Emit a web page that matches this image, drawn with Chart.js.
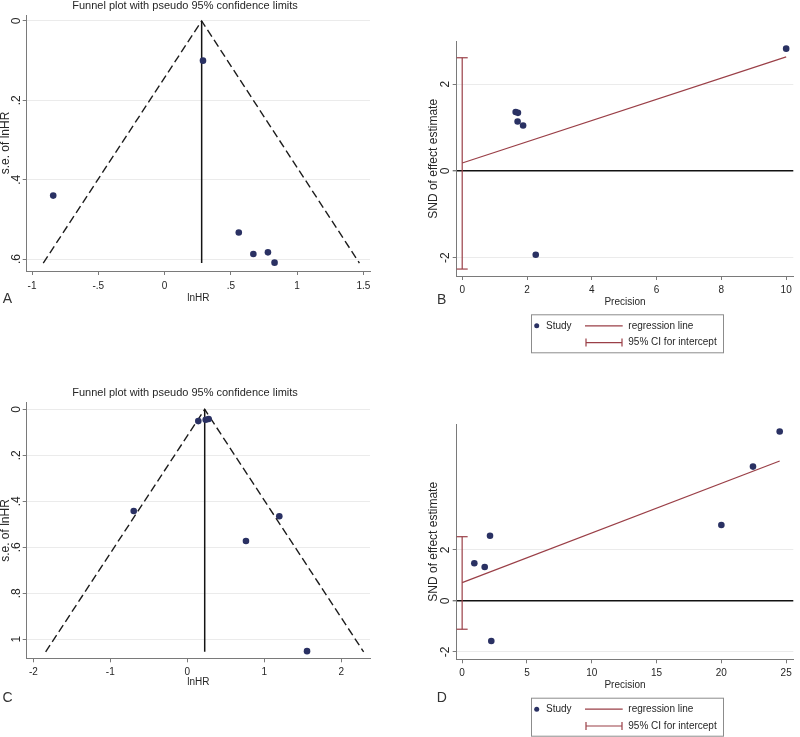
<!DOCTYPE html>
<html>
<head>
<meta charset="utf-8">
<script src="https://cdn.jsdelivr.net/npm/chart.js@4.4.1/dist/chart.umd.min.js"></script>
<style>
  html, body { margin: 0; padding: 0; background: #ffffff; }
  #wrap { position: relative; width: 800px; height: 737px; background: #ffffff; overflow: hidden; }
  canvas { position: absolute; }
</style>
</head>
<body>
<div id="wrap">
  <canvas id="cA" width="400" height="310" style="left:0px;top:0px;width:400px;height:310px"></canvas>
  <canvas id="cB" width="400" height="370" style="left:400px;top:0px;width:400px;height:370px"></canvas>
  <canvas id="cC" width="400" height="367" style="left:0px;top:370px;width:400px;height:367px"></canvas>
  <canvas id="cD" width="400" height="367" style="left:400px;top:370px;width:400px;height:367px"></canvas>
</div>
<script>
// ---------------- DATA ----------------
// Panel A: funnel plot
const aLnHR = [0.29, -0.84, 0.56, 0.67, 0.78, 0.83];
const aSE   = [0.10, 0.44, 0.533, 0.587, 0.583, 0.609];
const aFunnelX = [-0.915, 0.28, 1.47];
const aFunnelY = [0.61, 0, 0.61];
const aCentreX = [0.28, 0.28];
const aCentreY = [0, 0.61];
const aXTicks = [-1, -0.5, 0, 0.5, 1, 1.5];
const aXLabels = ['-1', '-.5', '0', '.5', '1', '1.5'];
const aYTicks = [0, 0.2, 0.4, 0.6];
const aYLabels = ['0', '.2', '.4', '.6'];

// Panel B: Egger regression
const bPrecision = [10.0, 1.65, 1.72, 1.71, 1.88, 2.27];
const bSND       = [2.82, 1.36, 1.34, 1.14, 1.05, -1.93];
const bRegX = [0, 10];
const bRegY = [0.185, 2.63];
const bCIX = [0, 0];
const bCIY = [-2.26, 2.61];
const bXTicks = [0, 2, 4, 6, 8, 10];
const bXLabels = ['0', '2', '4', '6', '8', '10'];
const bYTicks = [-2, 0, 2];
const bYLabels = ['-2', '0', '2'];

// Panel C: funnel plot
const cLnHR = [0.143, 0.239, 0.277, -0.696, 1.195, 0.762, 1.555];
const cSE   = [0.051, 0.045, 0.042, 0.442, 0.465, 0.573, 1.052];
const cFunnelX = [-1.84, 0.226, 2.29];
const cFunnelY = [1.055, 0, 1.055];
const cCentreX = [0.226, 0.226];
const cCentreY = [0, 1.055];
const cXTicks = [-2, -1, 0, 1, 2];
const cXLabels = ['-2', '-1', '0', '1', '2'];
const cYTicks = [0, 0.2, 0.4, 0.6, 0.8, 1];
const cYLabels = ['0', '.2', '.4', '.6', '.8', '1'];

// Panel D: Egger regression
const dPrecision = [0.94, 1.74, 2.15, 2.25, 20.0, 22.44, 24.5];
const dSND       = [1.48, 1.33, 2.56, -1.57, 2.98, 5.27, 6.65];
const dRegX = [0, 24.5];
const dRegY = [0.72, 5.49];
const dCIX = [0, 0];
const dCIY = [-1.11, 2.52];
const dXTicks = [0, 5, 10, 15, 20, 25];
const dXLabels = ['0', '5', '10', '15', '20', '25'];
const dYTicks = [-2, 0, 2];
const dYLabels = ['-2', '0', '2'];

const funnelTitle = 'Funnel plot with pseudo 95% confidence limits';
const legendLabels = ['Study', 'regression line', '95% CI for intercept'];

// ---------------- STYLE ----------------
const FONT_FAMILY = "'Liberation Sans',Arial,sans-serif";
const NAVY = '#2a3163';
const MAROON = '#9a3f47';
const AXIS = '#7a7a7a';
const GRID = '#ebebeb';
const TEXT = '#262626';
const HFONT = 10;   // horizontal text size
const VFONT = 12;   // vertical (rotated) text size
const TFONT = 11;   // panel title size
Chart.defaults.font.family = FONT_FAMILY;
Chart.defaults.font.size = HFONT;
Chart.defaults.color = TEXT;

function pts(xs, ys) { return xs.map((x, i) => ({ x: x, y: ys[i] })); }

function makeAxis(o) {
  const fs = o.vertical ? VFONT : HFONT;
  return {
    type: 'linear',
    position: o.vertical ? 'left' : 'bottom',
    min: o.min, max: o.max, reverse: !!o.reverse,
    afterBuildTicks: s => { s.ticks = o.ticks.map(v => ({ value: v })); },
    afterFit: s => { if (o.vertical) s.width = o.size; else s.height = o.size; },
    ticks: {
      autoSkip: false,
      callback: v => o.labels[o.ticks.indexOf(v)],
      minRotation: o.vertical ? 90 : 0,
      maxRotation: o.vertical ? 90 : 0,
      crossAlign: o.vertical ? 'center' : 'near',
      padding: o.tickPad,
      color: TEXT,
      font: { size: fs }
    },
    grid: {
      drawOnChartArea: !!o.vertical,
      color: ctx => (o.zeroLine && ctx.tick && ctx.tick.value === 0) ? '#111111' : GRID,
      lineWidth: ctx => (o.zeroLine && ctx.tick && ctx.tick.value === 0) ? 1.4 : 1,
      tickColor: AXIS,
      tickLength: 4,
      drawTicks: true
    },
    border: { color: AXIS, width: 1 },
    title: {
      display: true, text: o.title, color: TEXT,
      font: { size: fs, lineHeight: 1 },
      padding: { top: 0, bottom: 0 }
    }
  };
}

const letterPlugin = {
  id: 'panelLetter',
  afterDraw(chart, args, opts) {
    const ctx = chart.ctx;
    ctx.save();
    ctx.font = '14px ' + FONT_FAMILY;
    ctx.fillStyle = '#333333';
    ctx.textAlign = 'center';
    ctx.textBaseline = 'middle';
    ctx.fillText(opts.text, opts.x, opts.y);
    ctx.restore();
  }
};

const eggerLegend = {
  id: 'eggerLegend',
  afterDraw(chart, args, opts) {
    if (!opts || opts.top === undefined) return;
    const ctx = chart.ctx, t = opts.top;
    ctx.save();
    ctx.strokeStyle = '#8c8c8c'; ctx.lineWidth = 1;
    ctx.strokeRect(131.5, t + 0.5, 192, 38);
    const r1 = t + 11.5, r2 = t + 28.3;
    ctx.fillStyle = NAVY;
    ctx.beginPath(); ctx.arc(136.7, r1, 2.5, 0, Math.PI * 2); ctx.fill();
    ctx.font = HFONT + 'px ' + FONT_FAMILY;
    ctx.fillStyle = TEXT; ctx.textAlign = 'left'; ctx.textBaseline = 'middle';
    ctx.fillText(legendLabels[0], 146, r1);
    ctx.strokeStyle = MAROON; ctx.lineWidth = 1.2;
    ctx.beginPath(); ctx.moveTo(185, r1); ctx.lineTo(222.7, r1); ctx.stroke();
    ctx.fillText(legendLabels[1], 228.3, r1);
    ctx.beginPath();
    ctx.moveTo(186, r2); ctx.lineTo(222, r2);
    ctx.moveTo(186, r2 - 4); ctx.lineTo(186, r2 + 4);
    ctx.moveTo(222, r2 - 4); ctx.lineTo(222, r2 + 4);
    ctx.stroke();
    ctx.fillText(legendLabels[2], 228.3, r2);
    ctx.restore();
  }
};

function funnelChart(id, cfg) {
  return new Chart(document.getElementById(id), {
    type: 'scatter',
    data: {
      datasets: [
        { label: 'Study', data: pts(cfg.x, cfg.y), backgroundColor: NAVY, borderWidth: 0, pointRadius: 3.3, pointHoverRadius: 3.3 },
        { label: 'Pooled', data: pts(cfg.cx, cfg.cy), showLine: true, borderColor: '#141414', borderWidth: 1.5, pointRadius: 0 },
        { label: 'Limits', data: pts(cfg.fx, cfg.fy), showLine: true, borderColor: '#1c1c1c', borderWidth: 1.4, borderDash: [8, 4], pointRadius: 0 }
      ]
    },
    options: {
      responsive: false, animation: false, events: [],
      layout: { padding: cfg.padding },
      plugins: {
        legend: { display: false }, tooltip: { enabled: false },
        title: { display: true, text: funnelTitle, color: TEXT, font: { size: TFONT, weight: 'normal', lineHeight: 1 }, padding: cfg.titlePad },
        panelLetter: cfg.letter
      },
      scales: { x: cfg.xAxis, y: cfg.yAxis }
    },
    plugins: [letterPlugin]
  });
}

function eggerChart(id, cfg) {
  return new Chart(document.getElementById(id), {
    type: 'scatter',
    data: {
      datasets: [
        { label: 'Study', data: pts(cfg.x, cfg.y), backgroundColor: NAVY, borderWidth: 0, pointRadius: 3.3, pointHoverRadius: 3.3 },
        { label: 'regression line', data: pts(cfg.rx, cfg.ry), showLine: true, borderColor: MAROON, borderWidth: 1.2, pointRadius: 0 },
        { label: '95% CI for intercept', data: pts(cfg.ix, cfg.iy), showLine: true, borderColor: MAROON, borderWidth: 1.2,
          pointStyle: 'line', pointRadius: 5.5, pointBorderColor: MAROON, pointBorderWidth: 1.2, clip: false }
      ]
    },
    options: {
      responsive: false, animation: false, events: [],
      layout: { padding: cfg.padding },
      plugins: {
        legend: { display: false }, tooltip: { enabled: false },
        panelLetter: cfg.letter,
        eggerLegend: cfg.legend
      },
      scales: { x: cfg.xAxis, y: cfg.yAxis }
    },
    plugins: [letterPlugin, eggerLegend]
  });
}

// Panel A
funnelChart('cA', {
  x: aLnHR, y: aSE, cx: aCentreX, cy: aCentreY, fx: aFunnelX, fy: aFunnelY,
  padding: { left: 0, right: 30, top: 0, bottom: 7 },
  titlePad: { top: 0.2, bottom: 3.8 },
  letter: { text: 'A', x: 7.5, y: 299 },
  xAxis: makeAxis({ min: -1.04, max: 1.55, ticks: aXTicks, labels: aXLabels, size: 32, tickPad: 5, title: 'lnHR' }),
  yAxis: makeAxis({ vertical: true, reverse: true, min: -0.015, max: 0.63, ticks: aYTicks, labels: aYLabels, size: 26.7, tickPad: 1.5, title: 's.e. of lnHR' })
});

// Panel B
eggerChart('cB', {
  x: bPrecision, y: bSND, rx: bRegX, ry: bRegY, ix: bCIX, iy: bCIY,
  padding: { left: 27.5, right: 0, top: 41.7, bottom: 63 },
  letter: { text: 'B', x: 41.7, y: 300 },
  legend: { top: 314.3 },
  xAxis: makeAxis({ min: -0.17, max: 10.22, ticks: bXTicks, labels: bXLabels, size: 31, tickPad: 4, title: 'Precision' }),
  yAxis: makeAxis({ vertical: true, zeroLine: true, min: -2.42, max: 2.98, ticks: bYTicks, labels: bYLabels, size: 29.2, tickPad: 2, title: 'SND of effect estimate' })
});

// Panel C
funnelChart('cC', {
  x: cLnHR, y: cSE, cx: cCentreX, cy: cCentreY, fx: cFunnelX, fy: cFunnelY,
  padding: { left: 0, right: 30, top: 0, bottom: 49.3 },
  titlePad: { top: 17.8, bottom: 3.9 },
  letter: { text: 'C', x: 7.5, y: 328.3 },
  xAxis: makeAxis({ min: -2.086, max: 2.373, ticks: cXTicks, labels: cXLabels, size: 29.4, tickPad: 4, title: 'lnHR' }),
  yAxis: makeAxis({ vertical: true, reverse: true, min: -0.029, max: 1.083, ticks: cYTicks, labels: cYLabels, size: 26.7, tickPad: 1.5, title: 's.e. of lnHR' })
});

// Panel D
eggerChart('cD', {
  x: dPrecision, y: dSND, rx: dRegX, ry: dRegY, ix: dCIX, iy: dCIY,
  padding: { left: 27.5, right: 0, top: 54.3, bottom: 47 },
  letter: { text: 'D', x: 41.7, y: 328.3 },
  legend: { top: 327.7 },
  xAxis: makeAxis({ min: -0.42, max: 25.55, ticks: dXTicks, labels: dXLabels, size: 30.7, tickPad: 4, title: 'Precision' }),
  yAxis: makeAxis({ vertical: true, zeroLine: true, min: -2.29, max: 6.93, ticks: dYTicks, labels: dYLabels, size: 29.2, tickPad: 2, title: 'SND of effect estimate' })
});
</script>
</body>
</html>
